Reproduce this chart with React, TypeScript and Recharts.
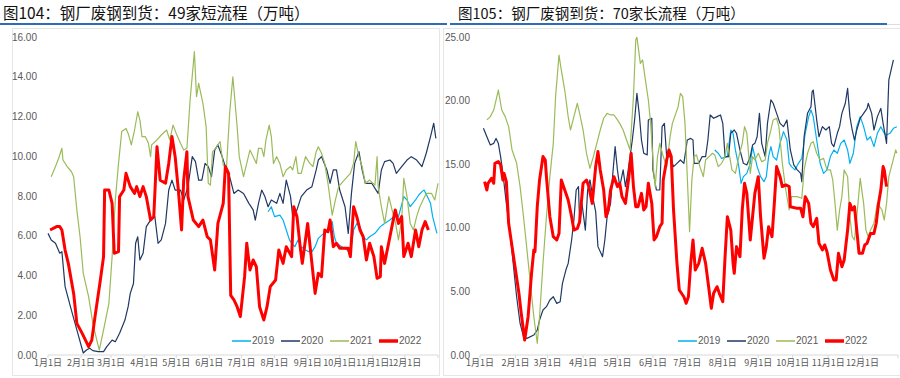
import React from 'react';
import { LineChart, Line, XAxis, YAxis, Legend } from 'recharts';

type P = [number, number];

const monthTicks = [0, 31, 59, 90, 120, 151, 181, 212, 243, 273, 304, 334, 365];
const monthLabels = ['1月1日', '2月1日', '3月1日', '4月1日', '5月1日', '6月1日', '7月1日', '8月1日', '9月1日', '10月1日', '11月1日', '12月1日', ''];
const seriesNames = ['2019', '2020', '2021', '2022'];
const seriesColors = ['#00B0F0', '#1F3864', '#9BBB59', '#FF0000'];
const seriesWidths = [1.2, 1.2, 1.2, 3];

const leftTitle = '图104：钢厂废钢到货：49家短流程（万吨）';
const rightTitle = '图105：钢厂废钢到货：70家长流程（万吨）';
const leftTicks = [0, 2, 4, 6, 8, 10, 12, 14, 16];
const rightTicks = [0, 5, 10, 15, 20, 25];

// [day of year, value]
const left2019: P[] = [[206,7.21],[209,7.46],[212,6.96],[217,7.04],[220,6.79],[223,6.29],[226,5.79],[228,5.62],[231,5.45],[234,5.79],[237,5.45],[241,5.28],[244,5.2],[247,5.2],[250,5.45],[253,5.87],[258,6.12],[262,6.2],[266,6.71],[268,5.95],[270,5.62],[275,5.45],[280,5.28],[283,5.12],[286,6.29],[289,6.62],[292,6.46],[295,5.95],[298,5.79],[301,5.95],[306,6.12],[311,6.46],[315,6.62],[320,6.79],[325,7.04],[328,6.96],[333,7.97],[336,7.8],[339,7.46],[344,7.8],[347,8.05],[350,8.22],[352,8.3],[355,7.97],[358,7.63],[360,6.96],[364,6.12]];
const left2020: P[] = [[0,6.12],[3,5.79],[7,5.62],[11,5.12],[13,5.2],[16,3.44],[21,2.43],[27,1.26],[33,0.1],[36,0.25],[39,0.34],[42,0.22],[47,0.17],[52,0.17],[55,0.42],[60,0.75],[63,0.67],[67,1.09],[72,1.76],[75,2.43],[77,3.1],[80,3.6],[82,5.62],[84,5.95],[86,4.78],[89,5.12],[92,6.46],[96,6.79],[100,6.96],[103,5.62],[106,5.79],[110,6.62],[113,8.3],[116,8.8],[119,8.3],[124,8.3],[127,7.8],[131,8.47],[135,9.98],[138,9.73],[141,8.8],[144,8.8],[147,9.64],[150,9.48],[153,8.97],[156,10.31],[159,10.57],[163,9.98],[166,9.48],[170,8.97],[174,8.13],[178,8.3],[183,8.13],[188,7.63],[192,7.3],[194,6.79],[197,7.63],[200,8.3],[203,7.97],[206,7.46],[209,7.8],[214,7.63],[217,8.13],[220,7.63],[223,8.8],[227,7.97],[229,6.96],[233,7.3],[237,7.97],[242,8.3],[247,8.47],[251,9.31],[253,9.81],[256,9.98],[261,9.31],[264,8.64],[267,9.31],[270,9.31],[273,8.3],[278,7.46],[281,6.12],[284,8.13],[287,9.64],[291,10.23],[294,9.31],[297,8.64],[303,8.64],[309,8.13],[312,9.31],[315,9.73],[320,9.81],[323,9.64],[326,9.14],[331,9.48],[336,9.81],[340,9.98],[345,9.81],[350,9.48],[354,10.15],[358,10.99],[361,11.66],[363,10.9]];
const left2021: P[] = [[3,8.97],[7,9.48],[10,9.9],[13,10.4],[14,9.81],[18,9.48],[22,9.22],[24,8.97],[27,7.3],[30,5.95],[33,4.11],[38,2.94],[42,1.59],[46,0.67],[48,0.25],[52,1.26],[57,2.6],[60,4.95],[63,7.8],[66,9.64],[69,11.24],[73,11.4],[75,11.15],[78,10.57],[81,11.32],[84,12.24],[86,11.82],[88,10.99],[91,10.99],[94,10.65],[96,9.98],[97,10.57],[102,10.82],[106,11.07],[111,11.32],[114,10.82],[117,11.57],[120,11.15],[124,10.65],[127,10.31],[130,10.4],[133,12.83],[137,15.26],[139,13.0],[141,13.67],[145,12.66],[148,11.49],[150,8.64],[152,8.55],[154,10.23],[157,10.4],[161,10.74],[164,9.56],[167,9.39],[170,12.16],[173,14.0],[177,11.5],[179,9.98],[183,8.97],[186,9.64],[189,10.31],[192,9.98],[195,9.64],[197,10.4],[200,10.4],[202,9.98],[204,10.82],[207,11.57],[209,10.99],[211,9.64],[214,9.98],[217,9.64],[220,8.97],[223,9.31],[227,9.48],[229,9.31],[232,9.98],[234,9.14],[237,9.14],[241,9.98],[245,9.64],[248,9.48],[251,10.23],[253,10.48],[256,10.15],[259,9.64],[262,8.64],[266,7.04],[269,7.8],[272,8.47],[276,8.72],[283,9.14],[286,9.64],[288,10.74],[291,9.98],[294,9.48],[297,8.64],[301,8.8],[306,8.55],[308,9.98],[309,8.47],[312,7.46],[315,6.62],[319,7.97],[322,7.3],[325,6.71],[328,5.79],[331,6.79],[333,8.89],[336,7.97],[339,6.62],[342,6.29],[345,6.96],[348,7.46],[351,7.8],[354,8.13],[359,8.13],[362,7.8],[365,8.64]];
const left2022: P[] = [[2,6.29],[8,6.46],[11,6.46],[13,6.29],[16,5.28],[19,4.61],[24,3.1],[27,1.59],[32,1.09],[38,0.42],[41,0.75],[44,1.93],[49,3.77],[52,4.95],[53,8.3],[57,8.3],[60,7.63],[62,5.12],[66,5.2],[67,7.97],[71,8.3],[73,9.14],[77,8.47],[81,8.13],[83,8.47],[86,7.97],[89,8.47],[92,7.97],[96,6.79],[99,6.96],[102,10.48],[105,8.8],[110,8.64],[113,9.64],[116,10.99],[119,9.98],[122,8.3],[125,6.29],[127,8.8],[130,10.23],[131,7.97],[136,6.79],[141,6.46],[145,6.79],[149,5.95],[152,5.79],[156,4.28],[159,6.62],[164,7.63],[166,9.48],[169,9.14],[171,3.0],[174,2.77],[177,2.43],[180,1.93],[184,3.94],[186,5.62],[189,4.28],[192,4.78],[195,4.44],[198,2.43],[202,1.76],[205,2.43],[208,3.44],[213,3.77],[216,5.28],[220,4.61],[223,5.45],[228,4.95],[230,7.46],[233,6.96],[236,5.45],[238,4.61],[243,6.62],[247,4.61],[250,3.1],[253,4.11],[256,3.94],[259,6.29],[262,6.2],[264,6.79],[267,5.45],[270,5.62],[273,5.37],[281,5.37],[283,4.95],[286,7.46],[289,6.96],[292,6.29],[295,5.95],[298,4.78],[301,5.62],[305,4.95],[308,3.86],[311,3.94],[312,5.45],[315,4.61],[320,5.95],[325,7.3],[328,6.62],[331,6.96],[333,4.95],[337,5.62],[340,4.95],[344,6.29],[347,5.45],[350,6.29],[353,6.71],[356,6.29]];

const right2019: P[] = [[205,16.12],[208,15.86],[211,15.46],[216,15.6],[219,17.69],[221,17.43],[223,16.12],[226,14.81],[228,13.5],[230,14.02],[233,14.28],[236,15.07],[238,16.38],[240,15.6],[242,14.81],[245,14.02],[248,13.63],[250,14.02],[252,15.6],[254,16.38],[256,15.6],[259,15.33],[262,16.64],[265,17.56],[268,16.9],[270,15.07],[272,14.81],[275,14.55],[278,15.07],[281,15.46],[284,17.43],[287,18.74],[289,19.26],[291,18.74],[294,16.9],[297,15.07],[300,14.28],[303,14.55],[306,15.6],[309,16.12],[312,15.86],[315,16.64],[318,16.9],[321,16.12],[323,15.07],[326,15.86],[329,17.95],[332,18.74],[335,17.95],[338,16.9],[341,17.16],[344,16.38],[347,17.43],[350,17.95],[353,17.43],[355,17.29],[358,17.43],[361,17.82],[364,17.95]];
const right2020: P[] = [[3,17.82],[6,17.16],[9,16.51],[12,16.64],[14,17.03],[16,16.64],[18,15.6],[20,14.28],[23,11.92],[26,9.82],[29,7.2],[32,4.58],[35,2.48],[38,1.44],[41,1.31],[47,1.57],[50,1.96],[52,2.75],[55,3.54],[58,3.8],[61,4.32],[64,4.58],[67,4.06],[70,4.19],[72,5.63],[75,6.68],[77,7.2],[80,9.04],[82,10.61],[84,12.97],[86,13.24],[87,10.36],[89,11.92],[92,9.82],[94,12.97],[96,13.76],[99,12.18],[101,11.27],[103,8.52],[107,7.73],[109,9.04],[111,10.87],[114,11.92],[116,14.28],[118,16.38],[120,14.55],[122,13.24],[125,14.55],[127,13.24],[129,14.28],[131,15.6],[133,16.9],[135,18.48],[137,20.57],[139,19.0],[141,16.9],[143,15.86],[146,15.73],[147,18.48],[150,18.61],[151,14.55],[154,12.97],[157,12.97],[159,17.95],[161,18.21],[163,15.6],[166,15.6],[169,14.81],[172,15.07],[175,15.33],[178,15.07],[181,16.9],[184,17.03],[186,16.9],[187,15.07],[191,15.07],[194,15.6],[197,15.6],[199,16.9],[201,18.87],[204,18.61],[207,18.74],[210,18.87],[212,18.21],[214,15.6],[217,15.6],[219,17.43],[222,17.69],[224,17.43],[227,16.12],[230,15.07],[233,14.94],[236,15.6],[238,16.51],[240,16.64],[242,17.16],[244,19.0],[246,16.64],[249,15.6],[251,18.21],[254,20.05],[256,19.79],[259,19.0],[262,18.21],[265,17.95],[268,18.48],[271,16.12],[274,14.94],[277,14.55],[280,14.28],[281,13.63],[283,17.16],[286,19.0],[289,19.52],[290,20.7],[291,20.83],[294,18.48],[296,17.16],[299,17.95],[302,17.69],[305,17.95],[307,16.64],[309,16.38],[312,17.43],[314,17.95],[316,19.0],[319,19.79],[321,20.96],[323,18.74],[325,17.69],[327,16.9],[329,17.69],[332,18.61],[335,19.0],[338,19.39],[339,19.79],[342,19.0],[344,17.69],[347,18.74],[350,19.39],[352,18.21],[355,16.64],[357,21.63],[359,22.41],[361,23.2]];
const right2021: P[] = [[6,18.48],[9,18.74],[12,19.26],[16,20.83],[19,19.26],[22,18.74],[25,17.95],[28,16.12],[32,15.07],[35,13.24],[38,10.87],[41,8.26],[44,5.63],[47,3.01],[50,0.92],[52,3.01],[55,7.2],[58,10.87],[61,14.02],[64,16.64],[66,20.31],[69,23.58],[71,22.4],[74,20.83],[77,18.74],[79,17.69],[82,18.74],[85,19.79],[87,19.0],[90,17.69],[93,15.86],[96,14.68],[99,15.6],[102,16.64],[105,17.69],[108,18.61],[111,19.0],[114,18.87],[117,18.87],[120,18.48],[122,18.21],[125,17.69],[128,16.9],[131,16.12],[134,20.31],[136,24.76],[137,25],[140,22.93],[142,23.2],[144,21.88],[147,20.05],[149,18.21],[152,14.02],[153,13.24],[155,15.6],[157,16.64],[160,15.6],[163,14.81],[166,17.16],[168,18.21],[171,19.0],[173,19.52],[175,20.57],[177,20.31],[179,18.21],[181,14.02],[183,9.7],[185,13.76],[187,15.6],[189,15.73],[192,14.81],[195,14.02],[197,15.33],[200,15.6],[203,15.86],[205,15.73],[208,14.81],[211,15.07],[214,15.6],[216,16.64],[218,15.6],[220,14.55],[223,14.28],[226,15.6],[229,16.64],[231,17.95],[233,17.43],[236,14.28],[238,15.6],[240,15.33],[243,15.86],[246,15.2],[249,15.33],[251,16.64],[254,17.69],[256,18.48],[259,18.61],[261,17.95],[264,15.07],[267,12.97],[270,11.4],[272,12.45],[277,12.45],[281,12.32],[283,14.55],[286,15.86],[289,16.64],[291,16.77],[294,15.86],[297,15.33],[300,15.46],[303,14.55],[306,14.55],[308,13.76],[310,11.92],[312,9.82],[314,11.4],[316,12.45],[318,14.55],[321,14.02],[323,10.87],[325,9.3],[327,9.04],[329,10.87],[332,13.89],[335,11.92],[337,9.82],[339,9.3],[341,9.82],[344,10.36],[347,11.92],[349,11.66],[351,11.4],[353,10.61],[355,11.92],[357,14.02],[360,15.07],[363,16.12],[364,15.86]];
const right2022: P[] = [[4,13.63],[6,12.97],[7,13.5],[10,13.89],[12,13.5],[13,15.07],[16,15.2],[18,14.94],[20,13.76],[21,14.28],[23,13.63],[25,10.36],[28,8.52],[31,6.68],[34,4.85],[36,3.28],[39,1.18],[42,3.01],[45,6.42],[47,8.26],[48,8.12],[50,11.66],[52,13.76],[55,15.6],[57,15.33],[58,14.02],[61,10.87],[64,9.3],[67,9.04],[69,9.56],[71,13.76],[74,12.97],[77,12.18],[80,10.87],[82,9.82],[85,9.95],[87,10.48],[90,13.5],[93,13.76],[95,13.24],[98,11.92],[101,14.81],[103,15.99],[105,14.55],[108,12.97],[110,10.87],[112,11.4],[114,12.97],[117,14.02],[120,13.24],[122,13.5],[124,12.45],[127,11.92],[130,14.02],[132,15.86],[134,13.24],[136,11.66],[138,11.66],[141,12.71],[143,11.4],[145,11.66],[147,13.5],[150,11.92],[152,9.04],[154,9.3],[157,10.09],[159,10.36],[160,13.76],[163,15.33],[165,16.12],[167,15.6],[169,11.4],[172,7.2],[174,5.11],[178,4.58],[180,4.06],[182,4.58],[184,7.2],[186,9.04],[188,6.68],[191,7.2],[194,8.39],[197,7.2],[200,5.11],[202,3.67],[204,4.85],[207,5.37],[209,4.85],[212,4.19],[214,7.73],[216,10.87],[219,9.82],[221,7.2],[222,6.42],[224,8.52],[227,7.73],[229,11.4],[231,13.5],[233,12.71],[236,9.04],[238,10.87],[240,12.71],[243,14.02],[245,10.87],[248,7.6],[250,8.52],[252,10.09],[255,9.3],[257,11.92],[259,14.81],[262,14.02],[264,13.24],[267,13.37],[270,13.24],[271,11.66],[277,11.53],[280,11.53],[282,10.87],[284,12.45],[287,11.92],[289,10.36],[291,10.09],[294,10.74],[296,8.78],[299,8.26],[301,8.65],[303,8.12],[306,6.68],[309,5.9],[311,5.9],[313,7.99],[316,6.94],[318,7.47],[321,9.82],[323,11.92],[325,11.4],[327,11.66],[329,9.82],[331,7.99],[334,7.99],[336,8.65],[338,8.78],[341,9.56],[344,9.56],[346,10.36],[348,11.92],[350,12.97],[352,14.81],[353,14.55],[355,13.24]];

const toRows = (pts: P[]) => pts.map(([d, v]) => ({ d, v }));

const tickFont = '"Liberation Sans Narrow", "Liberation Sans", Arial, sans-serif';
const cjkFont = '"Noto Sans CJK SC", "Noto Sans", sans-serif';

const LegendRow = () => (
  <div style={{ display: 'flex', alignItems: 'center', fontFamily: tickFont, fontSize: 10, color: '#595959', whiteSpace: 'nowrap' }}>
    {seriesNames.map((n, i) => (
      <div key={n} style={{ display: 'flex', alignItems: 'center', width: 49 }}>
        <svg width={19} height={6} style={{ display: 'block' }}>
          <line x1={0} y1={3} x2={19} y2={3} stroke={seriesColors[i]} strokeWidth={i === 3 ? 3.5 : 1.5} />
        </svg>
        <span style={{ marginLeft: 1, lineHeight: '12px' }}>{n}</span>
      </div>
    ))}
  </div>
);

type PanelProps = {
  x: number;
  width: number;
  yAxisWidth: number;
  marginRight: number;
  domainMax: number;
  ticks: number[];
  tickMargin: number;
  series: P[][];
  legendLeft: number;
};

const Panel = ({ x, width, yAxisWidth, marginRight, domainMax, ticks, tickMargin, series, legendLeft }: PanelProps) => (
  <div style={{ position: 'absolute', left: x, top: 0 }}>
    <LineChart width={width} height={378} margin={{ top: 37, right: marginRight, bottom: 0, left: 0 }}>
      <XAxis
        type="number"
        dataKey="d"
        domain={[0, 365]}
        ticks={monthTicks}
        interval={0}
        tickFormatter={(v: number) => monthLabels[monthTicks.indexOf(v)] ?? ''}
        height={23}
        tickSize={3}
        tickMargin={2}
        axisLine={{ stroke: '#D9D9D9' }}
        tickLine={{ stroke: '#D9D9D9' }}
        tick={{ fill: '#595959', fontSize: 9, fontFamily: cjkFont }}
      />
      <YAxis
        type="number"
        domain={[0, domainMax]}
        ticks={ticks}
        interval={0}
        width={yAxisWidth}
        tickSize={0}
        tickMargin={tickMargin}
        axisLine={false}
        tickLine={false}
        allowDataOverflow
        tickFormatter={(v: number) => v.toFixed(2)}
        tick={{ fill: '#595959', fontSize: 10, fontFamily: tickFont }}
      />
      {series.map((s, i) => (
        <Line
          key={seriesNames[i]}
          data={toRows(s)}
          dataKey="v"
          name={seriesNames[i]}
          type="linear"
          stroke={seriesColors[i]}
          strokeWidth={seriesWidths[i]}
          dot={false}
          activeDot={false}
          isAnimationActive={false}
          strokeLinejoin="round"
        />
      ))}
      <Legend
        layout="horizontal"
        align="center"
        verticalAlign="middle"
        content={() => <LegendRow />}
        wrapperStyle={{ left: legendLeft, top: 335, width: 'auto', height: 12 }}
      />
    </LineChart>
  </div>
);

export default function App() {
  return (
    <div style={{ position: 'absolute', left: 0, top: 0, width: 900, height: 378, background: '#fff', overflow: 'hidden' }}>
      <div style={{ position: 'absolute', left: 12, top: 28, width: 428, height: 348, border: '1px solid #E6E6E6', boxSizing: 'border-box' }} />
      <div style={{ position: 'absolute', left: 443, top: 28, width: 470, height: 348, border: '1px solid #E6E6E6', boxSizing: 'border-box' }} />
      <div style={{ position: 'absolute', left: 3, top: 3, fontFamily: cjkFont, fontSize: 15.5, lineHeight: '18px', color: '#111', whiteSpace: 'nowrap' }}>{leftTitle}</div>
      <div style={{ position: 'absolute', left: 458, top: 4, fontFamily: cjkFont, fontSize: 14.5, lineHeight: '17px', color: '#111', whiteSpace: 'nowrap' }}>{rightTitle}</div>
      <div style={{ position: 'absolute', left: 0, top: 23, width: 447, height: 2, background: '#2E6DB5' }} />
      <div style={{ position: 'absolute', left: 450, top: 23, width: 437, height: 2, background: '#2E6DB5' }} />
      <div style={{ position: 'absolute', left: 887, top: 24, width: 13, height: 1, background: '#DDDDDD' }} />
      <Panel x={0} width={450} yAxisWidth={48} marginRight={12} domainMax={16} ticks={leftTicks} tickMargin={11} series={[left2019, left2020, left2021, left2022]} legendLeft={232} />
      <Panel x={440} width={460} yAxisWidth={40} marginRight={2} domainMax={25} ticks={rightTicks} tickMargin={10} series={[right2019, right2020, right2021, right2022]} legendLeft={238} />
    </div>
  );
}
